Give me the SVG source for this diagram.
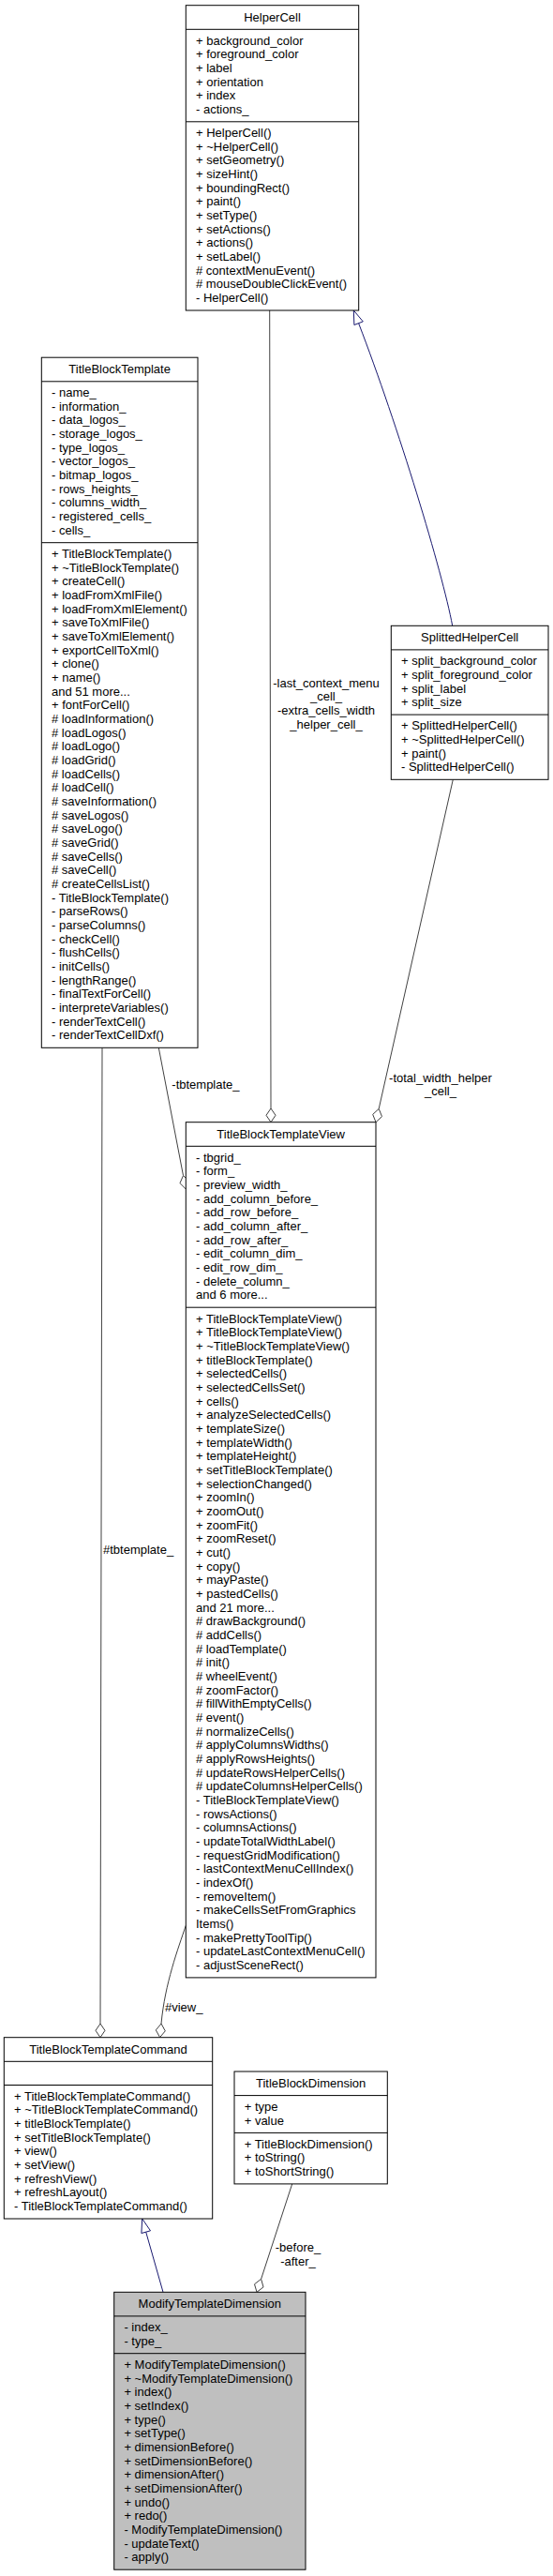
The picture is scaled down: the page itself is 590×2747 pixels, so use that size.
<svg xmlns="http://www.w3.org/2000/svg" width="590" height="2747" viewBox="0 0 590 2747">
<style>
text{font-family:"Liberation Sans",Arial,Helvetica,sans-serif;font-size:13px;fill:#000}
.t{text-anchor:middle}
.box{fill:#fff;stroke:#000;stroke-width:1}
.main{fill:#bfbfbf;stroke:#000;stroke-width:1}
.sep{stroke:#000;stroke-width:1}
.e{fill:none;stroke:#404040;stroke-width:1}
.g{fill:none;stroke:#191970;stroke-width:1}
.dia{fill:#fff;stroke:#404040;stroke-width:1}
.tri{fill:#fff;stroke:#191970;stroke-width:1}
</style>
<rect width="590" height="2747" fill="#fff"/>
<g id="connectors">
<!-- HelperCell -> TitleBlockTemplateView -->
<path class="e" d="M287.7,331 L289,1182"/>
<polygon class="dia" points="289,1196.7 294,1189.3 289,1182 284,1189.3"/>
<text class="t" x="348" y="732.5">-last_context_menu</text>
<text class="t" x="348" y="747.2">_cell_</text>
<text class="t" x="348" y="761.8">-extra_cells_width</text>
<text class="t" x="348" y="776.5">_helper_cell_</text>
<!-- SplittedHelperCell -> TitleBlockTemplateView -->
<path class="e" d="M483.3,831.3 L404.2,1182.4"/>
<polygon class="dia" points="401,1196.7 407.5,1190.6 404.2,1182.4 397.7,1188.4"/>
<text class="t" x="470" y="1153.5">-total_width_helper</text>
<text class="t" x="470" y="1168.2">_cell_</text>
<!-- TitleBlockTemplate -> TitleBlockTemplateView -->
<path class="e" d="M169.3,1117.3 L195.5,1253.6"/>
<polygon class="dia" points="198.3,1268 201.8,1259.8 195.5,1253.6 192,1261.7"/>
<text x="183.3" y="1161">-tbtemplate_</text>
<!-- TitleBlockTemplate -> TitleBlockTemplateCommand -->
<path class="e" d="M109,1117.3 L107,2158"/>
<polygon class="dia" points="107,2172.7 112,2165.3 107,2158 102,2165.3"/>
<text x="110" y="1657">#tbtemplate_</text>
<!-- TitleBlockTemplateView -> TitleBlockTemplateCommand -->
<path class="e" d="M198.3,2053.3 C190,2078 176,2115 172,2158"/>
<polygon class="dia" points="170.6,2172.6 176.3,2165.8 172,2158 166.3,2164.8"/>
<text x="176" y="2144.5">#view_</text>
<!-- SplittedHelperCell -> HelperCell (inheritance) -->
<path class="g" d="M482.7,667.3 C472,610 425,455 382.6,344.7"/>
<polygon class="tri" points="377.3,331 387.3,342.9 377.9,346.5"/>
<!-- ModifyTemplateDimension -> TitleBlockTemplateCommand (inheritance) -->
<path class="g" d="M174,2444.3 L155.7,2380.1"/>
<polygon class="tri" points="151.7,2366 160.5,2378.8 150.9,2381.5"/>
<!-- TitleBlockDimension -> ModifyTemplateDimension -->
<path class="e" d="M311.7,2328.9 L278.6,2430.3"/>
<polygon class="dia" points="274,2444.3 281,2438.9 278.6,2430.3 271.5,2435.8"/>
<text class="t" x="318" y="2401">-before_</text>
<text class="t" x="318" y="2416">-after_</text>
</g>
<g id="HelperCell">
<rect class="box" x="198.3" y="5.7" width="184.4" height="325.3"/>
<line class="sep" x1="198.3" y1="31.3" x2="382.7" y2="31.3"/>
<line class="sep" x1="198.3" y1="129.8" x2="382.7" y2="129.8"/>
<text class="t" x="290.5" y="22.7">HelperCell</text>
<text x="209" y="47.6"><tspan x="209">+ background_color</tspan><tspan x="209" dy="14.67">+ foreground_color</tspan><tspan x="209" dy="14.67">+ label</tspan><tspan x="209" dy="14.67">+ orientation</tspan><tspan x="209" dy="14.67">+ index</tspan><tspan x="209" dy="14.67">- actions_</tspan></text>
<text x="209" y="146.1"><tspan x="209">+ HelperCell()</tspan><tspan x="209" dy="14.67">+ ~HelperCell()</tspan><tspan x="209" dy="14.67">+ setGeometry()</tspan><tspan x="209" dy="14.67">+ sizeHint()</tspan><tspan x="209" dy="14.67">+ boundingRect()</tspan><tspan x="209" dy="14.67">+ paint()</tspan><tspan x="209" dy="14.67">+ setType()</tspan><tspan x="209" dy="14.67">+ setActions()</tspan><tspan x="209" dy="14.67">+ actions()</tspan><tspan x="209" dy="14.67">+ setLabel()</tspan><tspan x="209" dy="14.67"># contextMenuEvent()</tspan><tspan x="209" dy="14.67"># mouseDoubleClickEvent()</tspan><tspan x="209" dy="14.67">- HelperCell()</tspan></text>
</g>
<g id="TitleBlockTemplate">
<rect class="box" x="44.3" y="381.2" width="166.7" height="736.1"/>
<line class="sep" x1="44.3" y1="406.8" x2="211" y2="406.8"/>
<line class="sep" x1="44.3" y1="578.7" x2="211" y2="578.7"/>
<text class="t" x="127.65" y="398.2">TitleBlockTemplate</text>
<text x="55" y="423.1"><tspan x="55">- name_</tspan><tspan x="55" dy="14.67">- information_</tspan><tspan x="55" dy="14.67">- data_logos_</tspan><tspan x="55" dy="14.67">- storage_logos_</tspan><tspan x="55" dy="14.67">- type_logos_</tspan><tspan x="55" dy="14.67">- vector_logos_</tspan><tspan x="55" dy="14.67">- bitmap_logos_</tspan><tspan x="55" dy="14.67">- rows_heights_</tspan><tspan x="55" dy="14.67">- columns_width_</tspan><tspan x="55" dy="14.67">- registered_cells_</tspan><tspan x="55" dy="14.67">- cells_</tspan></text>
<text x="55" y="595"><tspan x="55">+ TitleBlockTemplate()</tspan><tspan x="55" dy="14.67">+ ~TitleBlockTemplate()</tspan><tspan x="55" dy="14.67">+ createCell()</tspan><tspan x="55" dy="14.67">+ loadFromXmlFile()</tspan><tspan x="55" dy="14.67">+ loadFromXmlElement()</tspan><tspan x="55" dy="14.67">+ saveToXmlFile()</tspan><tspan x="55" dy="14.67">+ saveToXmlElement()</tspan><tspan x="55" dy="14.67">+ exportCellToXml()</tspan><tspan x="55" dy="14.67">+ clone()</tspan><tspan x="55" dy="14.67">+ name()</tspan><tspan x="55" dy="14.67">and 51 more...</tspan><tspan x="55" dy="14.67">+ fontForCell()</tspan><tspan x="55" dy="14.67"># loadInformation()</tspan><tspan x="55" dy="14.67"># loadLogos()</tspan><tspan x="55" dy="14.67"># loadLogo()</tspan><tspan x="55" dy="14.67"># loadGrid()</tspan><tspan x="55" dy="14.67"># loadCells()</tspan><tspan x="55" dy="14.67"># loadCell()</tspan><tspan x="55" dy="14.67"># saveInformation()</tspan><tspan x="55" dy="14.67"># saveLogos()</tspan><tspan x="55" dy="14.67"># saveLogo()</tspan><tspan x="55" dy="14.67"># saveGrid()</tspan><tspan x="55" dy="14.67"># saveCells()</tspan><tspan x="55" dy="14.67"># saveCell()</tspan><tspan x="55" dy="14.67"># createCellsList()</tspan><tspan x="55" dy="14.67">- TitleBlockTemplate()</tspan><tspan x="55" dy="14.67">- parseRows()</tspan><tspan x="55" dy="14.67">- parseColumns()</tspan><tspan x="55" dy="14.67">- checkCell()</tspan><tspan x="55" dy="14.67">- flushCells()</tspan><tspan x="55" dy="14.67">- initCells()</tspan><tspan x="55" dy="14.67">- lengthRange()</tspan><tspan x="55" dy="14.67">- finalTextForCell()</tspan><tspan x="55" dy="14.67">- interpreteVariables()</tspan><tspan x="55" dy="14.67">- renderTextCell()</tspan><tspan x="55" dy="14.67">- renderTextCellDxf()</tspan></text>
</g>
<g id="SplittedHelperCell">
<rect class="box" x="417.3" y="667.3" width="167.7" height="164"/>
<line class="sep" x1="417.3" y1="692.9" x2="585" y2="692.9"/>
<line class="sep" x1="417.3" y1="762.1" x2="585" y2="762.1"/>
<text class="t" x="501.15" y="684.3">SplittedHelperCell</text>
<text x="428" y="709.2"><tspan x="428">+ split_background_color</tspan><tspan x="428" dy="14.67">+ split_foreground_color</tspan><tspan x="428" dy="14.67">+ split_label</tspan><tspan x="428" dy="14.67">+ split_size</tspan></text>
<text x="428" y="778.4"><tspan x="428">+ SplittedHelperCell()</tspan><tspan x="428" dy="14.67">+ ~SplittedHelperCell()</tspan><tspan x="428" dy="14.67">+ paint()</tspan><tspan x="428" dy="14.67">- SplittedHelperCell()</tspan></text>
</g>
<g id="TitleBlockTemplateView">
<rect class="box" x="198.3" y="1196.7" width="202.7" height="912.2"/>
<line class="sep" x1="198.3" y1="1222.3" x2="401" y2="1222.3"/>
<line class="sep" x1="198.3" y1="1394.2" x2="401" y2="1394.2"/>
<text class="t" x="299.65" y="1213.7">TitleBlockTemplateView</text>
<text x="209" y="1238.6"><tspan x="209">- tbgrid_</tspan><tspan x="209" dy="14.67">- form_</tspan><tspan x="209" dy="14.67">- preview_width_</tspan><tspan x="209" dy="14.67">- add_column_before_</tspan><tspan x="209" dy="14.67">- add_row_before_</tspan><tspan x="209" dy="14.67">- add_column_after_</tspan><tspan x="209" dy="14.67">- add_row_after_</tspan><tspan x="209" dy="14.67">- edit_column_dim_</tspan><tspan x="209" dy="14.67">- edit_row_dim_</tspan><tspan x="209" dy="14.67">- delete_column_</tspan><tspan x="209" dy="14.67">and 6 more...</tspan></text>
<text x="209" y="1410.5"><tspan x="209">+ TitleBlockTemplateView()</tspan><tspan x="209" dy="14.67">+ TitleBlockTemplateView()</tspan><tspan x="209" dy="14.67">+ ~TitleBlockTemplateView()</tspan><tspan x="209" dy="14.67">+ titleBlockTemplate()</tspan><tspan x="209" dy="14.67">+ selectedCells()</tspan><tspan x="209" dy="14.67">+ selectedCellsSet()</tspan><tspan x="209" dy="14.67">+ cells()</tspan><tspan x="209" dy="14.67">+ analyzeSelectedCells()</tspan><tspan x="209" dy="14.67">+ templateSize()</tspan><tspan x="209" dy="14.67">+ templateWidth()</tspan><tspan x="209" dy="14.67">+ templateHeight()</tspan><tspan x="209" dy="14.67">+ setTitleBlockTemplate()</tspan><tspan x="209" dy="14.67">+ selectionChanged()</tspan><tspan x="209" dy="14.67">+ zoomIn()</tspan><tspan x="209" dy="14.67">+ zoomOut()</tspan><tspan x="209" dy="14.67">+ zoomFit()</tspan><tspan x="209" dy="14.67">+ zoomReset()</tspan><tspan x="209" dy="14.67">+ cut()</tspan><tspan x="209" dy="14.67">+ copy()</tspan><tspan x="209" dy="14.67">+ mayPaste()</tspan><tspan x="209" dy="14.67">+ pastedCells()</tspan><tspan x="209" dy="14.67">and 21 more...</tspan><tspan x="209" dy="14.67"># drawBackground()</tspan><tspan x="209" dy="14.67"># addCells()</tspan><tspan x="209" dy="14.67"># loadTemplate()</tspan><tspan x="209" dy="14.67"># init()</tspan><tspan x="209" dy="14.67"># wheelEvent()</tspan><tspan x="209" dy="14.67"># zoomFactor()</tspan><tspan x="209" dy="14.67"># fillWithEmptyCells()</tspan><tspan x="209" dy="14.67"># event()</tspan><tspan x="209" dy="14.67"># normalizeCells()</tspan><tspan x="209" dy="14.67"># applyColumnsWidths()</tspan><tspan x="209" dy="14.67"># applyRowsHeights()</tspan><tspan x="209" dy="14.67"># updateRowsHelperCells()</tspan><tspan x="209" dy="14.67"># updateColumnsHelperCells()</tspan><tspan x="209" dy="14.67">- TitleBlockTemplateView()</tspan><tspan x="209" dy="14.67">- rowsActions()</tspan><tspan x="209" dy="14.67">- columnsActions()</tspan><tspan x="209" dy="14.67">- updateTotalWidthLabel()</tspan><tspan x="209" dy="14.67">- requestGridModification()</tspan><tspan x="209" dy="14.67">- lastContextMenuCellIndex()</tspan><tspan x="209" dy="14.67">- indexOf()</tspan><tspan x="209" dy="14.67">- removeItem()</tspan><tspan x="209" dy="14.67">- makeCellsSetFromGraphics</tspan><tspan x="209" dy="14.67">Items()</tspan><tspan x="209" dy="14.67">- makePrettyToolTip()</tspan><tspan x="209" dy="14.67">- updateLastContextMenuCell()</tspan><tspan x="209" dy="14.67">- adjustSceneRect()</tspan></text>
</g>
<g id="TitleBlockTemplateCommand">
<rect class="box" x="4.3" y="2172.7" width="222.4" height="193.3"/>
<line class="sep" x1="4.3" y1="2198.3" x2="226.7" y2="2198.3"/>
<line class="sep" x1="4.3" y1="2223.5" x2="226.7" y2="2223.5"/>
<text class="t" x="115.5" y="2189.7">TitleBlockTemplateCommand</text>
<text x="15" y="2239.8"><tspan x="15">+ TitleBlockTemplateCommand()</tspan><tspan x="15" dy="14.67">+ ~TitleBlockTemplateCommand()</tspan><tspan x="15" dy="14.67">+ titleBlockTemplate()</tspan><tspan x="15" dy="14.67">+ setTitleBlockTemplate()</tspan><tspan x="15" dy="14.67">+ view()</tspan><tspan x="15" dy="14.67">+ setView()</tspan><tspan x="15" dy="14.67">+ refreshView()</tspan><tspan x="15" dy="14.67">+ refreshLayout()</tspan><tspan x="15" dy="14.67">- TitleBlockTemplateCommand()</tspan></text>
</g>
<g id="TitleBlockDimension">
<rect class="box" x="250" y="2209" width="163.3" height="119.9"/>
<line class="sep" x1="250" y1="2234.6" x2="413.3" y2="2234.6"/>
<line class="sep" x1="250" y1="2274.4" x2="413.3" y2="2274.4"/>
<text class="t" x="331.65" y="2226">TitleBlockDimension</text>
<text x="260.7" y="2250.9"><tspan x="260.7">+ type</tspan><tspan x="260.7" dy="14.67">+ value</tspan></text>
<text x="260.7" y="2290.7"><tspan x="260.7">+ TitleBlockDimension()</tspan><tspan x="260.7" dy="14.67">+ toString()</tspan><tspan x="260.7" dy="14.67">+ toShortString()</tspan></text>
</g>
<g id="ModifyTemplateDimension">
<rect class="main" x="121.7" y="2444.3" width="204.3" height="295.9"/>
<line class="sep" x1="121.7" y1="2469.9" x2="326" y2="2469.9"/>
<line class="sep" x1="121.7" y1="2509.7" x2="326" y2="2509.7"/>
<text class="t" x="223.85" y="2461.3">ModifyTemplateDimension</text>
<text x="132.4" y="2486.2"><tspan x="132.4">- index_</tspan><tspan x="132.4" dy="14.67">- type_</tspan></text>
<text x="132.4" y="2526"><tspan x="132.4">+ ModifyTemplateDimension()</tspan><tspan x="132.4" dy="14.67">+ ~ModifyTemplateDimension()</tspan><tspan x="132.4" dy="14.67">+ index()</tspan><tspan x="132.4" dy="14.67">+ setIndex()</tspan><tspan x="132.4" dy="14.67">+ type()</tspan><tspan x="132.4" dy="14.67">+ setType()</tspan><tspan x="132.4" dy="14.67">+ dimensionBefore()</tspan><tspan x="132.4" dy="14.67">+ setDimensionBefore()</tspan><tspan x="132.4" dy="14.67">+ dimensionAfter()</tspan><tspan x="132.4" dy="14.67">+ setDimensionAfter()</tspan><tspan x="132.4" dy="14.67">+ undo()</tspan><tspan x="132.4" dy="14.67">+ redo()</tspan><tspan x="132.4" dy="14.67">- ModifyTemplateDimension()</tspan><tspan x="132.4" dy="14.67">- updateText()</tspan><tspan x="132.4" dy="14.67">- apply()</tspan></text>
</g>
</svg>
